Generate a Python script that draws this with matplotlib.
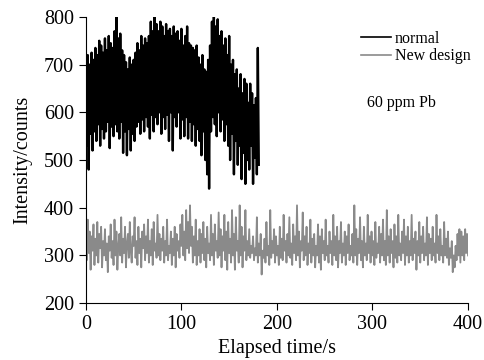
import numpy as np
import matplotlib
matplotlib.use("Agg")
import matplotlib.pyplot as plt

# normal nebulizer, 1 s steps
normal = [
    705, 530, 720, 480, 700, 555, 725, 520, 710, 560,
    735, 540, 720, 575, 750, 530, 740, 565, 725, 545,
    755, 560, 730, 580, 760, 525, 745, 570, 735, 550,
    770, 575, 800, 560, 755, 545, 765, 580, 730, 515,
    720, 560, 705, 510, 690, 565, 715, 520, 700, 555,
    710, 540, 725, 570, 745, 580, 730, 555, 760, 585,
    740, 560, 755, 590, 745, 570, 760, 545, 790, 595,
    770, 560, 800, 590, 785, 575, 770, 600, 790, 555,
    780, 590, 760, 565, 785, 595, 770, 540, 775, 600,
    760, 520, 780, 590, 765, 570, 770, 600, 750, 545,
    775, 585, 740, 550, 760, 590, 780, 545, 745, 580,
    740, 540, 735, 575, 730, 530, 740, 565, 715, 540,
    700, 510, 720, 560, 690, 500, 685, 470, 710, 440,
    740, 560, 790, 590, 800, 575, 780, 550, 795, 600,
    760, 560, 770, 585, 740, 540, 755, 575, 720, 530,
    760, 500, 700, 555, 710, 470, 680, 540, 690, 490,
    650, 530, 680, 460, 640, 515, 670, 450, 660, 500,
    620, 480, 660, 530, 640, 450, 615, 505, 630, 470,
    735, 490,
]

# new design, 1 s steps
new_design = [
    330, 290, 375, 305, 350, 270, 340, 310, 365, 280, 335, 300, 370, 285, 345, 315, 360, 275, 330, 300,
    355, 290, 325, 265, 340, 310, 365, 295, 330, 280, 375, 300, 350, 270, 320, 345, 300, 380, 285, 335,
    305, 360, 275, 325, 345, 295, 370, 310, 285, 340, 320, 380, 295, 330, 280, 360, 305, 335, 275, 350,
    315, 365, 290, 340, 305, 375, 285, 330, 300, 355, 280, 370, 310, 325, 295, 385, 300, 345, 290, 335,
    310, 360, 285, 330, 300, 375, 290, 320, 305, 350, 280, 335, 300, 360, 275, 345, 310, 330, 295, 365,
    320, 385, 300, 350, 290, 395, 315, 370, 305, 405, 320, 360, 285, 340, 300, 375, 280, 330, 300, 355,
    285, 345, 305, 370, 290, 335, 275, 360, 305, 325, 290, 385, 300, 345, 280, 365, 310, 330, 295, 390,
    300, 355, 275, 340, 310, 385, 290, 350, 270, 370, 305, 335, 285, 395, 300, 345, 270, 380, 310, 330,
    285, 405, 300, 360, 275, 340, 310, 395, 290, 330, 300, 355, 295, 320, 305, 340, 290, 315, 300, 380,
    285, 325, 300, 345, 260, 310, 295, 335, 285, 370, 300, 320, 280, 395, 295, 330, 305, 355, 285, 340,
    300, 320, 280, 360, 295, 335, 290, 385, 310, 330, 285, 345, 300, 380, 295, 325, 280, 365, 305, 340,
    290, 405, 300, 350, 275, 330, 310, 390, 290, 340, 300, 360, 280, 325, 305, 375, 285, 335, 300, 345,
    275, 320, 300, 365, 285, 340, 270, 355, 305, 330, 290, 375, 300, 320, 285, 350, 305, 330, 280, 385,
    300, 340, 290, 360, 275, 330, 305, 370, 285, 325, 300, 350, 280, 340, 305, 365, 290, 320, 300, 345,
    285, 405, 300, 355, 280, 335, 305, 380, 290, 330, 275, 360, 300, 325, 290, 385, 305, 340, 285, 350,
    300, 330, 280, 370, 295, 325, 305, 360, 285, 345, 300, 375, 290, 330, 280, 395, 300, 340, 285, 355,
    305, 330, 275, 365, 295, 340, 285, 385, 300, 325, 290, 350, 305, 375, 280, 340, 300, 360, 285, 330,
    300, 385, 290, 335, 305, 350, 270, 330, 300, 370, 285, 340, 305, 360, 290, 325, 300, 380, 280, 345,
    305, 335, 290, 360, 300, 325, 285, 385, 305, 340, 290, 355, 300, 320, 285, 370, 300, 335, 295, 350,
    280, 315, 295, 330, 265, 300, 275, 320, 290, 345, 300, 355, 285, 350, 300, 340, 290, 355, 305, 345,
    300,
]

xticks = [0, 100, 200, 300, 400]
yticks = [200, 300, 400, 500, 600, 700, 800]

plt.rcParams['font.family'] = ['Liberation Serif', 'DejaVu Serif']

fig = plt.figure(figsize=(4.85, 3.6), dpi=100)
ax = fig.add_axes([0.177, 0.158, 0.788, 0.795])

ax.plot(np.arange(len(new_design)), new_design, c="#8a8a8a", linewidth=1.3, label="New design")
ax.plot(np.arange(len(normal)), normal, c="black", linewidth=1.7, label="normal")

ax.set_xlim(0, 400)
ax.set_ylim(200, 800)
ax.set_xticks(xticks)
ax.set_yticks(yticks)
ax.spines['top'].set_visible(False)
ax.spines['right'].set_visible(False)
ax.tick_params(direction='out', length=5, labelsize=14.5)
ax.set_xlabel("Elapsed time/s", fontsize=14.5)
ax.set_ylabel("Intensity/counts", fontsize=14.5, labelpad=8)

handles, labels = ax.get_legend_handles_labels()
leg = ax.legend(handles[::-1], labels[::-1], loc='upper left', bbox_to_anchor=(0.695, 0.985),
                frameon=False, fontsize=11.5, handlelength=1.9, handletextpad=0.2,
                labelspacing=0.1, borderaxespad=0.2)
for line in leg.get_lines():
    line.set_linewidth(1.2)
ax.text(0.735, 0.70, "60 ppm Pb", transform=ax.transAxes, fontsize=11.5, va='center')

fig.savefig("out.png", dpi=100)
